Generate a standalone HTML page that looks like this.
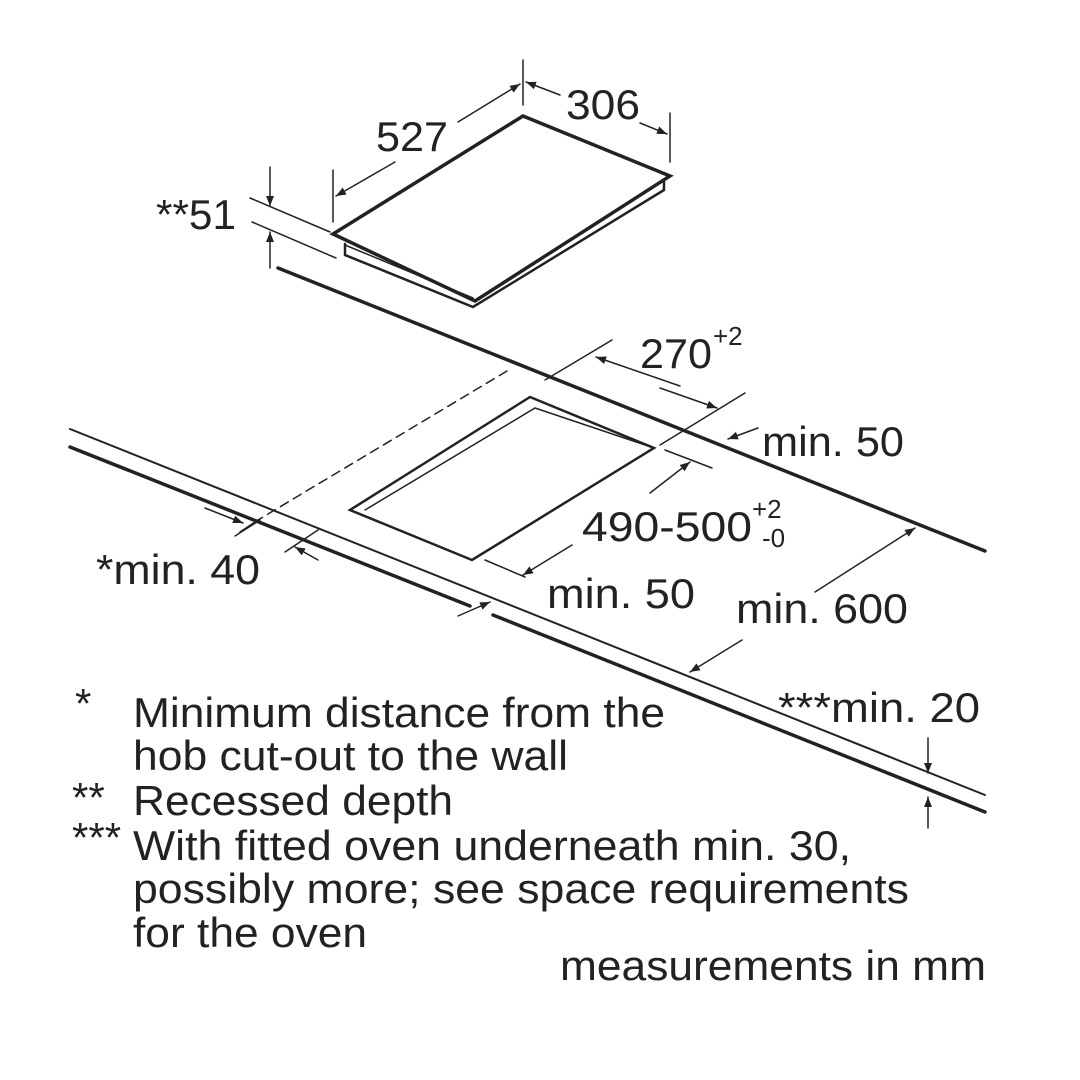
<!DOCTYPE html>
<html><head><meta charset="utf-8"><style>
html,body{margin:0;padding:0;background:#fff;}
svg{display:block;}
text{font-family:"Liberation Sans",Arial,sans-serif;fill:#222;font-size:42px;}
</style></head><body>
<svg width="1080" height="1080" viewBox="0 0 1080 1080" xmlns="http://www.w3.org/2000/svg">
<defs>
<marker id="a" viewBox="0 0 10 10" refX="10" refY="5" markerWidth="10" markerHeight="10" orient="auto-start-reverse" markerUnits="userSpaceOnUse">
<path d="M0,1 L10,5 L0,9 z" fill="#222"/></marker>
</defs>
<g stroke="#222" fill="none" stroke-linecap="round">
<polygon points="523,116 670,176 475,301 333,234" stroke-width="3.5"/>
<polyline points="345,244 345,255 473,307 664,190 664,182" stroke-width="2.5"/>
<line x1="345" y1="245" x2="473" y2="298" stroke-width="1.5"/>
<line x1="523" y1="60" x2="523" y2="105" stroke-width="1.5"/>
<line x1="670" y1="113" x2="670" y2="162" stroke-width="1.5"/>
<line x1="333" y1="170" x2="333" y2="222" stroke-width="1.5"/>
<line x1="458" y1="122" x2="520" y2="84" stroke-width="1.5" marker-end="url(#a)"/>
<line x1="395" y1="162" x2="336" y2="196" stroke-width="1.5" marker-end="url(#a)"/>
<line x1="560" y1="95" x2="526" y2="82" stroke-width="1.5" marker-end="url(#a)"/>
<line x1="640" y1="123" x2="667" y2="134" stroke-width="1.5" marker-end="url(#a)"/>
<line x1="250" y1="198" x2="330" y2="232" stroke-width="1.5"/>
<line x1="252" y1="222" x2="336" y2="258" stroke-width="1.5"/>
<line x1="270" y1="167" x2="270" y2="206" stroke-width="1.5" marker-end="url(#a)"/>
<line x1="270" y1="268" x2="270" y2="232" stroke-width="1.5" marker-end="url(#a)"/>
<line x1="278" y1="268" x2="985" y2="551" stroke-width="3.5"/>
<line x1="70" y1="429" x2="985" y2="795" stroke-width="2"/>
<line x1="70" y1="447" x2="470" y2="606" stroke-width="3.5"/>
<line x1="493" y1="615" x2="985" y2="812" stroke-width="3.5"/>
<polygon points="530,397 654,448 472,560 350,510" stroke-width="2.5"/>
<polyline points="365,510 535,408 654,448" stroke-width="1.5"/>
<line x1="507" y1="371" x2="258" y2="520" stroke-width="1.5" stroke-dasharray="9,6"/>
<line x1="258" y1="520" x2="240" y2="532" stroke-width="1.5"/>
<line x1="612" y1="340" x2="545" y2="380" stroke-width="1.5"/>
<line x1="745" y1="393" x2="660" y2="445" stroke-width="1.5"/>
<line x1="680" y1="386" x2="596" y2="357" stroke-width="1.5" marker-end="url(#a)"/>
<line x1="660" y1="388" x2="717" y2="408" stroke-width="1.5" marker-end="url(#a)"/>
<line x1="758" y1="428" x2="728" y2="439" stroke-width="1.5" marker-end="url(#a)"/>
<line x1="665" y1="450" x2="712" y2="468" stroke-width="1.5"/>
<line x1="650" y1="493" x2="690" y2="462" stroke-width="1.5" marker-end="url(#a)"/>
<line x1="485" y1="560" x2="525" y2="577" stroke-width="1.5"/>
<line x1="572" y1="545" x2="523" y2="575" stroke-width="1.5" marker-end="url(#a)"/>
<line x1="205" y1="508" x2="243" y2="523" stroke-width="1.5" marker-end="url(#a)"/>
<line x1="260" y1="520" x2="235" y2="536" stroke-width="1.5"/>
<line x1="318" y1="560" x2="295" y2="547" stroke-width="1.5" marker-end="url(#a)"/>
<line x1="285" y1="552" x2="318" y2="530" stroke-width="1.5"/>
<line x1="458" y1="616" x2="490" y2="602" stroke-width="1.5" marker-end="url(#a)"/>
<line x1="815" y1="592" x2="915" y2="528" stroke-width="1.5" marker-end="url(#a)"/>
<line x1="742" y1="640" x2="690" y2="672" stroke-width="1.5" marker-end="url(#a)"/>
<line x1="928" y1="738" x2="928" y2="773" stroke-width="1.5" marker-end="url(#a)"/>
<line x1="928" y1="828" x2="928" y2="797" stroke-width="1.5" marker-end="url(#a)"/>
</g>
<text x="376" y="151" textLength="72" lengthAdjust="spacingAndGlyphs">527</text>
<text x="566" y="119" textLength="74" lengthAdjust="spacingAndGlyphs">306</text>
<text x="156" y="229" textLength="80" lengthAdjust="spacingAndGlyphs">**51</text>
<text x="640" y="368" textLength="72" lengthAdjust="spacingAndGlyphs">270</text><text x="713" y="345" style="font-size:26px">+2</text>
<text x="762" y="456" textLength="142" lengthAdjust="spacingAndGlyphs">min. 50</text>
<text x="582" y="541" textLength="170" lengthAdjust="spacingAndGlyphs">490-500</text><text x="752" y="518" style="font-size:26px">+2</text><text x="762" y="547" style="font-size:26px">-0</text>
<text x="96" y="584" textLength="164" lengthAdjust="spacingAndGlyphs">*min. 40</text>
<text x="547" y="608" textLength="148" lengthAdjust="spacingAndGlyphs">min. 50</text>
<text x="736" y="623" textLength="172" lengthAdjust="spacingAndGlyphs">min. 600</text>
<text x="778" y="722" textLength="202" lengthAdjust="spacingAndGlyphs">***min. 20</text>
<text x="75" y="718">*</text>
<text x="133" y="727" textLength="532" lengthAdjust="spacingAndGlyphs">Minimum distance from the</text>
<text x="133" y="770" textLength="435" lengthAdjust="spacingAndGlyphs">hob cut-out to the wall</text>
<text x="72" y="812">**</text>
<text x="133" y="815" textLength="320" lengthAdjust="spacingAndGlyphs">Recessed depth</text>
<text x="72" y="852">***</text>
<text x="133" y="860" textLength="718" lengthAdjust="spacingAndGlyphs">With fitted oven underneath min. 30,</text>
<text x="133" y="903" textLength="776" lengthAdjust="spacingAndGlyphs">possibly more; see space requirements</text>
<text x="133" y="947" textLength="234" lengthAdjust="spacingAndGlyphs">for the oven</text>
<text x="560" y="980" textLength="426" lengthAdjust="spacingAndGlyphs">measurements in mm</text>
</svg>
</body></html>
